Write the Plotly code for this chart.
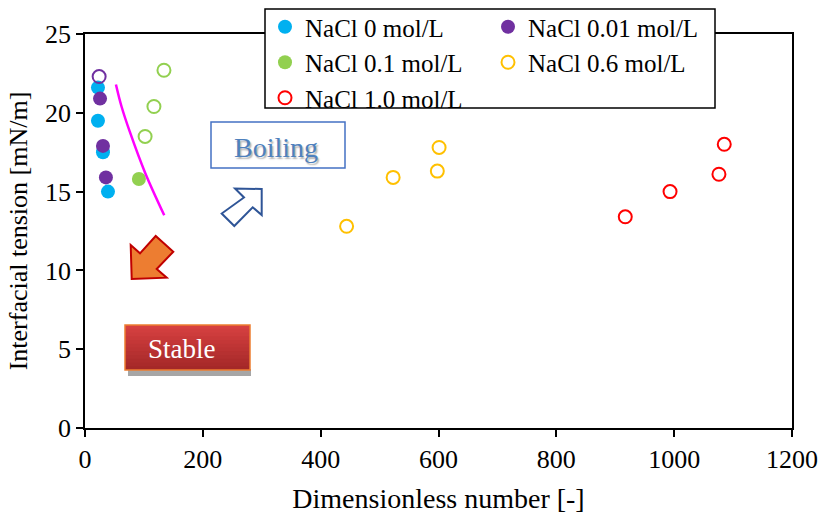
import plotly.graph_objects as go

# ---- measured data ----
x_nacl_0 = [22, 22, 30.5, 39]
y_nacl_0 = [21.6, 19.5, 17.5, 15.0]

x_nacl_001 = [25.5, 30.5, 35.5]
y_nacl_001 = [20.9, 17.9, 15.9]
x_nacl_001_open = [24]
y_nacl_001_open = [22.3]

x_nacl_01 = [91.5]
y_nacl_01 = [15.8]
x_nacl_01_open = [102, 117, 134]
y_nacl_01_open = [18.5, 20.4, 22.7]

x_nacl_06 = [444, 523, 598, 601]
y_nacl_06 = [12.8, 15.9, 16.3, 17.8]

x_nacl_10 = [917, 993, 1076, 1085]
y_nacl_10 = [13.4, 15.0, 16.1, 18.0]

# stability boundary curve
x_boundary = [52.5, 62, 76, 102, 134.5]
y_boundary = [21.8, 20.4, 18.8, 16.2, 13.5]

x_ticks = [0, 200, 400, 600, 800, 1000, 1200]
y_ticks = [0, 5, 10, 15, 20, 25]

FONT = "Liberation Serif, Times New Roman, serif"
W, H = 822, 514
ML, MR, MT, MB = 85, 30, 34, 86
PW, PH = W - ML - MR, H - MT - MB


def pp(X, Y):
    """pixel position in the page -> paper coordinates"""
    return (X - ML) / PW, (MT + PH - Y) / PH


def poly_path(pts):
    coords = [pp(x, y) for x, y in pts]
    return "M " + " L ".join(f"{a:.5f},{b:.5f}" for a, b in coords) + " Z"


fig = go.Figure()

fig.add_trace(go.Scatter(
    x=x_nacl_0, y=y_nacl_0, mode="markers", name="NaCl 0 mol/L", legend="legend",
    marker=dict(symbol="circle", size=14, color="#00B0F0")))
fig.add_trace(go.Scatter(
    x=x_nacl_001, y=y_nacl_001, mode="markers", name="NaCl 0.01 mol/L", legend="legend2",
    marker=dict(symbol="circle", size=14, color="#7030A0")))
fig.add_trace(go.Scatter(
    x=x_nacl_001_open, y=y_nacl_001_open, mode="markers", showlegend=False,
    marker=dict(symbol="circle-open", size=13, color="#7030A0", line=dict(width=2))))
fig.add_trace(go.Scatter(
    x=x_nacl_01, y=y_nacl_01, mode="markers", name="NaCl 0.1 mol/L", legend="legend",
    marker=dict(symbol="circle", size=14, color="#92D050")))
fig.add_trace(go.Scatter(
    x=x_nacl_01_open, y=y_nacl_01_open, mode="markers", showlegend=False,
    marker=dict(symbol="circle-open", size=13, color="#92D050", line=dict(width=2))))
fig.add_trace(go.Scatter(
    x=x_nacl_06, y=y_nacl_06, mode="markers", name="NaCl 0.6 mol/L", legend="legend2",
    marker=dict(symbol="circle-open", size=13, color="#FFC000", line=dict(width=2))))
fig.add_trace(go.Scatter(
    x=x_nacl_10, y=y_nacl_10, mode="markers", name="NaCl 1.0 mol/L", legend="legend",
    marker=dict(symbol="circle-open", size=13, color="#FF0000", line=dict(width=2))))
fig.add_trace(go.Scatter(
    x=x_boundary, y=y_boundary, mode="lines", showlegend=False,
    line=dict(color="#FF00FF", width=2.5, shape="spline")))

shapes = []

# legend frame
lx0, ly0 = pp(265, 108)
lx1, ly1 = pp(715, 9)
shapes.append(dict(type="rect", xref="paper", yref="paper", x0=lx0, y0=ly0, x1=lx1, y1=ly1,
                   fillcolor="white", line=dict(color="black", width=1.5), layer="above"))

# "Boiling" label box
bx0, by0 = pp(211, 168)
bx1, by1 = pp(345, 122)
shapes.append(dict(type="rect", xref="paper", yref="paper", x0=bx0, y0=by0, x1=bx1, y1=by1,
                   fillcolor="white", line=dict(color="#4472C4", width=1.5), layer="above"))

# hollow arrow pointing towards the boiling region
shapes.append(dict(type="path", xref="paper", yref="paper", layer="above",
                   path=poly_path([(261.7, 189), (235, 188.5), (244, 197.5), (221.7, 213.5),
                                   (234.3, 226), (252.7, 207.3), (261.7, 215)]),
                   fillcolor="white", line=dict(color="#2F5597", width=2)))

# filled arrow pointing towards the stable region
shapes.append(dict(type="path", xref="paper", yref="paper", layer="above",
                   path=poly_path([(131.7, 279), (130.7, 245), (140, 253.3), (155.7, 236),
                                   (173.3, 251.7), (156.7, 269), (166.7, 277.7)]),
                   fillcolor="#ED7D31", line=dict(color="#C00000", width=2)))

# "Stable" label: drop shadow, shaded red body, orange frame
sx0, sy0 = pp(128, 376)
sx1, sy1 = pp(251, 369)
shapes.append(dict(type="rect", xref="paper", yref="paper", x0=sx0, y0=sy0, x1=sx1, y1=sy1,
                   fillcolor="#A6A6A6", line=dict(width=0), layer="above"))
top_rgb = (214, 64, 64)
bot_rgb = (164, 40, 40)
n_strips = 12
y_top, y_bot = 325.0, 370.0
for i in range(n_strips):
    t = i / (n_strips - 1)
    c = tuple(round(a + (b - a) * t) for a, b in zip(top_rgb, bot_rgb))
    ya = y_top + (y_bot - y_top) * i / n_strips
    # each band runs to the bottom edge so the next one overlaps it without seams
    x0s, y0s = pp(125, y_bot)
    x1s, y1s = pp(250, ya)
    shapes.append(dict(type="rect", xref="paper", yref="paper", x0=x0s, y0=y0s, x1=x1s, y1=y1s,
                       fillcolor=f"rgb{c}", line=dict(width=0), layer="above"))
fx0, fy0 = pp(125, 370)
fx1, fy1 = pp(250, 325)
shapes.append(dict(type="rect", xref="paper", yref="paper", x0=fx0, y0=fy0, x1=fx1, y1=fy1,
                   fillcolor="rgba(0,0,0,0)", line=dict(color="#ED7D31", width=1.5), layer="above"))

annotations = []
bcx, bcy = pp(276, 147)
annotations.append(dict(x=bcx, y=bcy, xref="paper", yref="paper", text="Boiling", showarrow=False,
                        xanchor="center", yanchor="middle",
                        font=dict(family=FONT, size=28, color="#4F81BD",
                                  shadow="1.5px 1.5px 1.5px rgba(0,0,0,0.3)")))
scx, scy = pp(182, 349)
annotations.append(dict(x=scx, y=scy, xref="paper", yref="paper", text="Stable", showarrow=False,
                        xanchor="center", yanchor="middle",
                        font=dict(family=FONT, size=27, color="white")))

legend_font = dict(family=FONT, size=25, color="black")
l1x, l1y = pp(265, 4)
l2x, _ = pp(488, 4)

fig.update_layout(
    width=W, height=H,
    margin=dict(l=ML, r=MR, t=MT, b=MB, autoexpand=False),
    paper_bgcolor="white", plot_bgcolor="white",
    font=dict(family=FONT, color="black"),
    shapes=shapes,
    annotations=annotations,
    legend=dict(x=l1x, y=l1y, xanchor="left", yanchor="top", bgcolor="rgba(0,0,0,0)",
                borderwidth=0, font=legend_font, tracegroupgap=0, itemwidth=30),
    legend2=dict(x=l2x, y=l1y, xanchor="left", yanchor="top", bgcolor="rgba(0,0,0,0)",
                 borderwidth=0, font=legend_font, tracegroupgap=0, itemwidth=30),
    xaxis=dict(range=[0, 1200], tickvals=x_ticks, ticks="outside", ticklen=7, tickwidth=1.5,
               tickcolor="black", showline=True, linecolor="black", linewidth=1.5, mirror=True,
               showgrid=False, zeroline=False,
               tickfont=dict(family=FONT, size=26, color="black"),
               title=dict(text="Dimensionless number [-]", standoff=19,
                          font=dict(family=FONT, size=28, color="black"))),
    yaxis=dict(range=[0, 25], tickvals=y_ticks, ticks="outside", ticklen=7, tickwidth=1.5,
               tickcolor="black", showline=True, linecolor="black", linewidth=1.5, mirror=True,
               showgrid=False, zeroline=False,
               tickfont=dict(family=FONT, size=26, color="black"),
               title=dict(text="Interfacial tension [mN/m]", standoff=10,
                          font=dict(family=FONT, size=26, color="black"))),
)

fig.write_html("out.html")
